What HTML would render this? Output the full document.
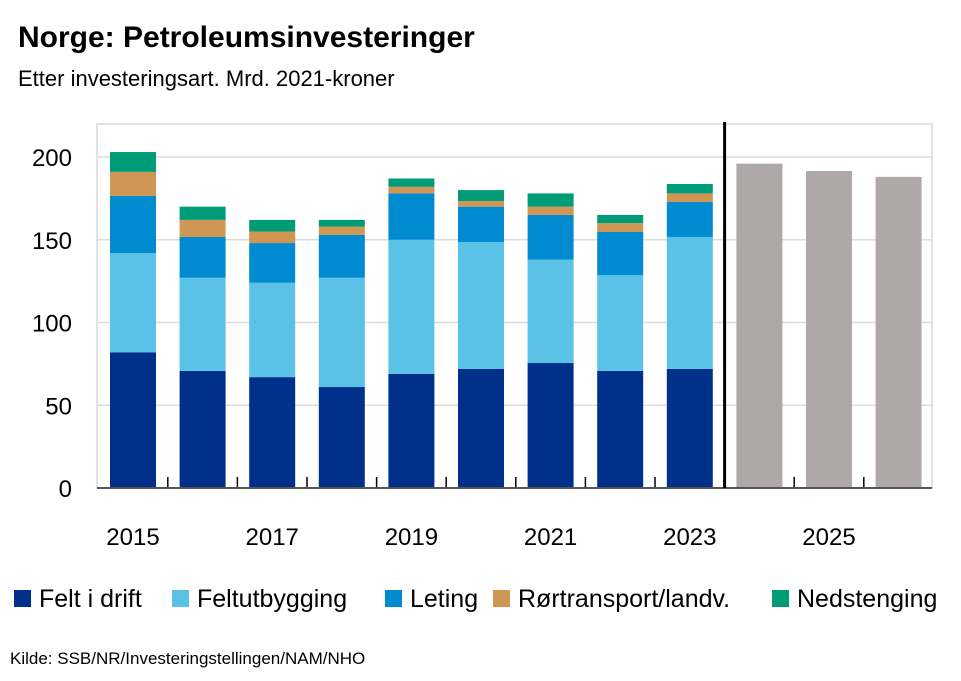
<!DOCTYPE html>
<html><head><meta charset="utf-8"><style>
body{margin:0;background:#fff;font-family:"Liberation Sans",sans-serif;}
svg text{font-family:"Liberation Sans",sans-serif;}
</style></head><body>
<svg width="961" height="676" viewBox="0 0 961 676" xmlns="http://www.w3.org/2000/svg">
<text x="18" y="47" font-size="30" font-weight="bold" fill="#000">Norge:  Petroleumsinvesteringer</text>
<text x="18" y="86" font-size="22" fill="#000">Etter investeringsart. Mrd. 2021-kroner</text>
<g id="plot"></g>
<text x="10" y="664" font-size="17" fill="#000">Kilde: SSB/NR/Investeringstellingen/NAM/NHO</text>
</svg>
<script>
const years=[2015,2016,2017,2018,2019,2020,2021,2022,2023,2024,2025,2026];
const feltIDrift=[82,70.7,67,61,69,72,75.5,70.7,72];
const feltutbygging=[60,56.3,57,66,81,76.6,62.5,58,79.7];
const leting=[34.5,24.7,24,26,28,21.4,27,26,21.1];
const rortransport=[14.5,10.3,7,5,4,3.4,5,5.3,5.2];
const nedstenging=[12,8,7,4,5,6.6,8,5,5.7];
const prognose=[196,191.5,188];
const yTicks=[0,50,100,150,200];
const xLabels=["2015","2017","2019","2021","2023","2025"];
const NS="http://www.w3.org/2000/svg";
const g=document.getElementById('plot');
const L=97,R=932,T=124,B=488;
const y=v=>B-v*(B-157)/200;
const pitch=69.6, x0=110, bw=46;
const xb=i=>x0+i*pitch;
function mk(t,a){const e=document.createElementNS(NS,t);for(const k in a)e.setAttribute(k,a[k]);g.appendChild(e);return e;}
let e=mk('rect',{x:L,y:T,width:R-L,height:B-T,fill:'none',stroke:'#d9d9d9','stroke-width':1.5});


yTicks.forEach(v=>{
 if(v>0){let l=mk('line',{x1:L,x2:R,y1:y(v),y2:y(v),stroke:'#dcdcdc','stroke-width':1.5});
 
 }
 let t=mk('text',{x:72,y:y(v)+9,'font-size':24,'text-anchor':'end',fill:'#000'});t.textContent=v;
 
 
});
const series=[[feltIDrift,'#00308A','felt-i-drift'],[feltutbygging,'#5BC2E7','feltutbygging'],[leting,'#008BD0','leting'],[rortransport,'#D09653','rortransport'],[nedstenging,'#009B77','nedstenging']];
feltIDrift.forEach((_,i)=>{
 let base=0;
 series.forEach(([arr,c,n])=>{
  const v=arr[i];
  let r=mk('rect',{x:xb(i),y:y(base+v),width:bw,height:y(base)-y(base+v),fill:c});
  
  
  base+=v;
 });
});
prognose.forEach((v,j)=>{
 const i=feltIDrift.length+j;
 let r=mk('rect',{x:xb(i),y:y(v),width:bw,height:B-y(v),fill:'#AEA9A8'});
 
 
});
for(let i=1;i<years.length;i++){
 const tx=xb(i)-(pitch-bw)/2;
 let l=mk('line',{x1:tx,x2:tx,y1:B-11,y2:B,stroke:'#000','stroke-width':1.5});
 
 
}
let ax=mk('line',{x1:L,x2:R,y1:B,y2:B,stroke:'#555','stroke-width':2});


const sx=xb(feltIDrift.length)-(pitch-bw)/2;
let sep=mk('line',{x1:sx,x2:sx,y1:T-2,y2:B,stroke:'#000','stroke-width':3});


xLabels.forEach(s=>{
 const i=years.indexOf(+s);
 let t=mk('text',{x:xb(i)+bw/2,y:545,'font-size':24,'text-anchor':'middle',fill:'#000'});t.textContent=s;
 
 
});
const leg=[['Felt i drift','#00308A',14],['Feltutbygging','#5BC2E7',172],['Leting','#008BD0',385],['Rørtransport/landv.','#D09653',493],['Nedstenging','#009B77',772]];
leg.forEach(([n,c,lx])=>{
 let r=mk('rect',{x:lx,y:590,width:17,height:17,fill:c});
 
 
 let t=mk('text',{x:lx+25,y:607,'font-size':25,fill:'#000'});t.textContent=n;
 
 
});
</script>
</body></html>
